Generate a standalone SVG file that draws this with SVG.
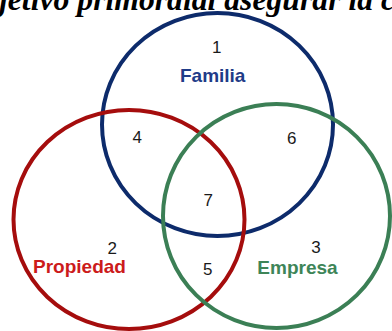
<svg xmlns="http://www.w3.org/2000/svg" width="392" height="331" viewBox="0 0 392 331">
<style>
.ring{fill:none;stroke-width:4}
.num{font-family:"Liberation Sans",Arial,sans-serif;font-size:17px;fill:#1a1a1a;text-anchor:middle}
.lbl{font-family:"Liberation Sans",Arial,sans-serif;font-size:19px;font-weight:bold;text-anchor:middle}
.title{font-family:"Liberation Serif","Times New Roman",serif;font-size:31px;font-weight:bold;font-style:italic;fill:#000}
</style>
<rect width="392" height="331" fill="#fff"/>
<text class="title" x="-1" y="10" textLength="396" lengthAdjust="spacingAndGlyphs">jetivo primordial asegurar la c</text>
<g id="connectors"></g>
<g id="familia">
<ellipse class="ring" cx="217.5" cy="124.5" rx="115.5" ry="111.5" stroke="#0d2b6b"/>
<text class="num" x="216.7" y="53.3">1</text>
<text class="lbl" x="212.7" y="81.5" fill="#1f3c88">Familia</text>
</g>
<g id="propiedad">
<ellipse class="ring" cx="129" cy="219.5" rx="115.5" ry="109.5" stroke="#a50d0d"/>
<text class="num" x="112.3" y="254">2</text>
<text class="lbl" x="79.5" y="273" fill="#cc1b1b">Propiedad</text>
</g>
<g id="empresa">
<ellipse class="ring" cx="276.5" cy="216" rx="113.5" ry="112" stroke="#3b7f55"/>
<text class="num" x="316" y="253.3">3</text>
<text class="lbl" x="297.5" y="273.5" fill="#3e8558">Empresa</text>
</g>
<g id="intersections">
<text class="num" x="137.3" y="143.3">4</text>
<text class="num" x="207.7" y="275">5</text>
<text class="num" x="291.7" y="144">6</text>
<text class="num" x="208.3" y="206">7</text>
</g>
</svg>
